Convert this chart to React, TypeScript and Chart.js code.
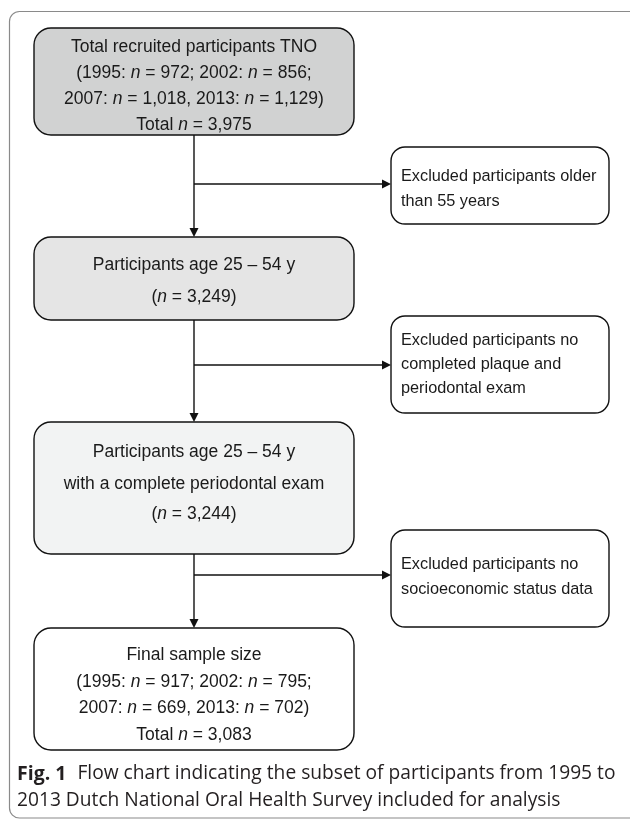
import React, { useEffect, useRef } from "react";
import { Chart, registerables } from "chart.js";

Chart.register(...registerables);

// ---- content ----
const mainLabels: string[][] = [
  ["Total recruited participants TNO", "(1995: _n_ = 972; 2002: _n_ = 856;", "2007: _n_ = 1,018, 2013: _n_ = 1,129)", "Total _n_ = 3,975"],
  ["Participants age 25 \u2013 54 y", "(_n_ = 3,249)"],
  ["Participants age 25 \u2013 54 y", "with a complete periodontal exam", "(_n_ = 3,244)"],
  ["Final sample size", "(1995: _n_ = 917; 2002: _n_ = 795;", "2007: _n_ = 669, 2013: _n_ = 702)", "Total _n_ = 3,083"],
];
const excludedLabels: string[][] = [
  ["Excluded participants older", "than 55 years"],
  ["Excluded participants no", "completed plaque and", "periodontal exam"],
  ["Excluded participants no", "socioeconomic status data"],
];
const captionBold = "Fig. 1";
const captionLines = [
  "Flow chart indicating the subset of participants from 1995 to",
  "2013 Dutch National Oral Health Survey included for analysis",
];

// ---- layout (chart units) ----
const mainBoxX = [34, 354];
const mainBoxY = [
  [28, 135],
  [237, 320],
  [422, 554],
  [628, 750],
];
const mainLineY = [
  [47, 73.5, 99.5, 125],
  [265, 297],
  [452, 484, 514],
  [655, 682, 708, 735],
];
const mainFills = ["#d1d2d2", "#e5e5e5", "#f2f3f3", "#ffffff"];
const exclBoxX = [391, 609];
const exclBoxY = [
  [147, 224],
  [316, 413],
  [530, 627],
];
const exclLineY = [
  [177, 202],
  [341, 365, 389],
  [565, 590],
];
const branchY = [184, 365, 575];
const spineX = 194;
const captionX = 17;
const captionY = [774, 801];

const FONT = "'Liberation Sans', Arial, sans-serif";
const MAIN_SIZE = 17.5;
const EXCL_SIZE = 16.3;

function segs(line: string) {
  const parts = line.split("_");
  return parts.map((t, i) => ({ t, it: i % 2 === 1 }));
}

function richWidth(ctx: CanvasRenderingContext2D, line: string, size: number) {
  let w = 0;
  for (const s of segs(line)) {
    ctx.font = `${s.it ? "italic " : ""}${size}px ${FONT}`;
    w += ctx.measureText(s.t).width;
  }
  return w;
}

function drawRich(ctx: CanvasRenderingContext2D, line: string, x: number, y: number, size: number, align: "center" | "left") {
  const total = richWidth(ctx, line, size);
  let cx = align === "center" ? x - total / 2 : x;
  ctx.textBaseline = "middle";
  ctx.textAlign = "left";
  for (const s of segs(line)) {
    ctx.font = `${s.it ? "italic " : ""}${size}px ${FONT}`;
    ctx.fillText(s.t, cx, y);
    cx += ctx.measureText(s.t).width;
  }
}

function roundRect(ctx: CanvasRenderingContext2D, x0: number, y0: number, x1: number, y1: number, r: number) {
  ctx.beginPath();
  ctx.moveTo(x0 + r, y0);
  ctx.lineTo(x1 - r, y0);
  ctx.arcTo(x1, y0, x1, y0 + r, r);
  ctx.lineTo(x1, y1 - r);
  ctx.arcTo(x1, y1, x1 - r, y1, r);
  ctx.lineTo(x0 + r, y1);
  ctx.arcTo(x0, y1, x0, y1 - r, r);
  ctx.lineTo(x0, y0 + r);
  ctx.arcTo(x0, y0, x0 + r, y0, r);
  ctx.closePath();
}

const flowPlugin = {
  id: "flow",
  beforeDraw(chart: any) {
    const ctx = chart.ctx as CanvasRenderingContext2D;
    ctx.save();
    ctx.fillStyle = "#ffffff";
    ctx.fillRect(0, 0, chart.width, chart.height);
    ctx.restore();
  },
  afterDraw(chart: any) {
    const ctx = chart.ctx as CanvasRenderingContext2D;
    const xs = chart.scales.x;
    const ys = chart.scales.y;
    const X = (v: number) => xs.getPixelForValue(v);
    const Y = (v: number) => ys.getPixelForValue(v);
    ctx.save();

    // outer frame
    ctx.strokeStyle = "#8a8a8a";
    ctx.lineWidth = 1.2;
    roundRect(ctx, X(9.5), Y(11.5), X(645), Y(818), 10);
    ctx.stroke();

    const arrowHead = (x: number, y: number, dir: "down" | "right") => {
      ctx.beginPath();
      if (dir === "down") {
        ctx.moveTo(x, y);
        ctx.lineTo(x - 4.5, y - 9);
        ctx.lineTo(x + 4.5, y - 9);
      } else {
        ctx.moveTo(x, y);
        ctx.lineTo(x - 9, y - 4.5);
        ctx.lineTo(x - 9, y + 4.5);
      }
      ctx.closePath();
      ctx.fill();
    };

    // connectors
    ctx.strokeStyle = "#111111";
    ctx.fillStyle = "#111111";
    ctx.lineWidth = 1.4;
    for (let i = 0; i < mainBoxY.length - 1; i++) {
      const y0 = Y(mainBoxY[i][1]);
      const y1 = Y(mainBoxY[i + 1][0]);
      ctx.beginPath();
      ctx.moveTo(X(spineX), y0);
      ctx.lineTo(X(spineX), y1 - 6);
      ctx.stroke();
      arrowHead(X(spineX), y1, "down");
      const by = Y(branchY[i]);
      ctx.beginPath();
      ctx.moveTo(X(spineX), by);
      ctx.lineTo(X(exclBoxX[0]) - 6, by);
      ctx.stroke();
      arrowHead(X(exclBoxX[0]), by, "right");
    }

    // main boxes
    mainBoxY.forEach((yy, i) => {
      roundRect(ctx, X(mainBoxX[0]), Y(yy[0]), X(mainBoxX[1]), Y(yy[1]), 17);
      ctx.fillStyle = mainFills[i];
      ctx.fill();
      ctx.strokeStyle = "#111111";
      ctx.lineWidth = 1.4;
      ctx.stroke();
      ctx.fillStyle = "#1a1a1a";
      const cx = X((mainBoxX[0] + mainBoxX[1]) / 2);
      mainLabels[i].forEach((line, j) => drawRich(ctx, line, cx, Y(mainLineY[i][j]), MAIN_SIZE, "center"));
    });

    // excluded boxes
    exclBoxY.forEach((yy, i) => {
      roundRect(ctx, X(exclBoxX[0]), Y(yy[0]), X(exclBoxX[1]), Y(yy[1]), 14);
      ctx.fillStyle = "#ffffff";
      ctx.fill();
      ctx.strokeStyle = "#111111";
      ctx.lineWidth = 1.4;
      ctx.stroke();
      ctx.fillStyle = "#1a1a1a";
      excludedLabels[i].forEach((line, j) => drawRich(ctx, line, X(exclBoxX[0] + 10), Y(exclLineY[i][j]), EXCL_SIZE, "left"));
    });

    // caption
    ctx.fillStyle = "#231f20";
    ctx.textBaseline = "middle";
    ctx.textAlign = "left";
    const cf = "'Open Sans', 'Noto Sans', sans-serif";
    ctx.font = `bold 19.5px ${cf}`;
    ctx.fillText(captionBold, X(captionX), Y(captionY[0]));
    const bw = ctx.measureText(captionBold).width + 11;
    ctx.font = `19.2px ${cf}`;
    ctx.fillText(captionLines[0], X(captionX) + bw, Y(captionY[0]));
    ctx.fillText(captionLines[1], X(captionX), Y(captionY[1]));

    ctx.restore();
  },
};

export default function App() {
  const ref = useRef<HTMLCanvasElement | null>(null);
  useEffect(() => {
    document.body.style.margin = "0";
    const canvas = ref.current!;
    const centers = mainBoxY.map((yy) => ({ x: (mainBoxX[0] + mainBoxX[1]) / 2, y: (yy[0] + yy[1]) / 2 }));
    const chart = new Chart(canvas, {
      type: "scatter",
      data: {
        datasets: [
          { data: centers, pointRadius: 0, showLine: false },
        ],
      },
      options: {
        animation: false,
        responsive: false,
        maintainAspectRatio: false,
        layout: { padding: 0 },
        plugins: { legend: { display: false }, tooltip: { enabled: false } },
        scales: {
          x: { type: "linear", min: 0, max: 630, display: false },
          y: { type: "linear", min: 0, max: 820, reverse: true, display: false },
        },
      },
      plugins: [flowPlugin],
    } as any);
    return () => chart.destroy();
  }, []);
  return (
    <div style={{ position: "absolute", left: 0, top: 0, width: 630, height: 820 }}>
      <canvas ref={ref} width={630} height={820} style={{ width: 630, height: 820, display: "block" }} />
    </div>
  );
}
